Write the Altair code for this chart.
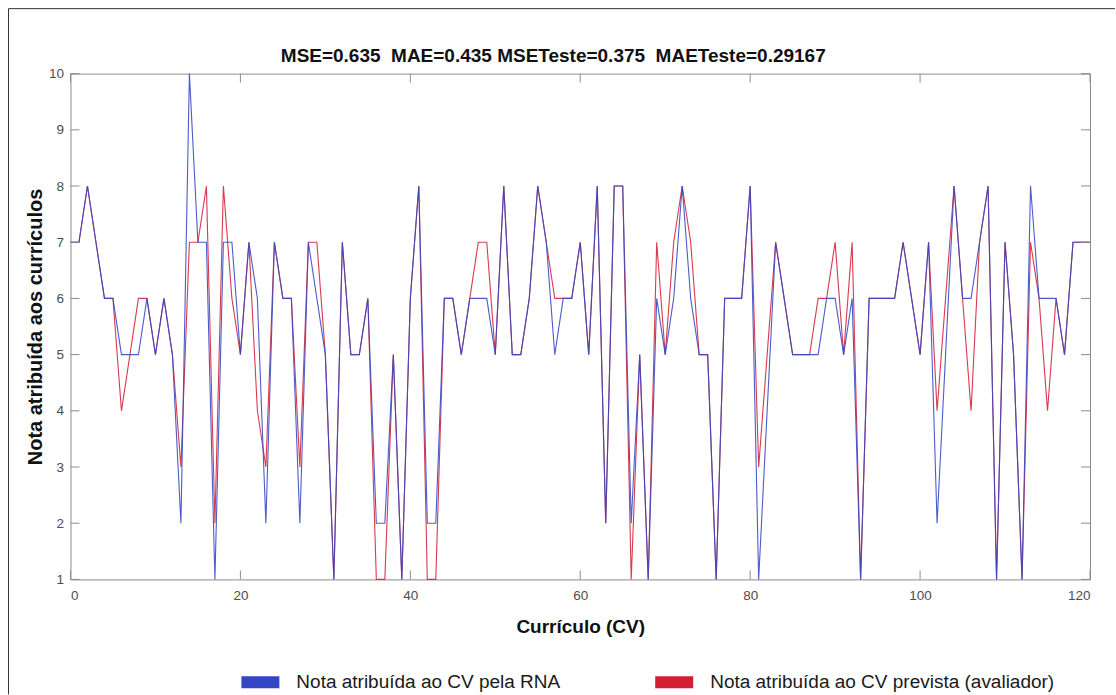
import altair as alt
import pandas as pd

# ---- data ----
cv_index = list(range(0, 121))

nota_rna = [7, 7, 8, 7, 6, 6, 5, 5, 5, 6,
            5, 6, 5, 2, 10, 7, 7, 1, 7, 7,
            5, 7, 6, 2, 7, 6, 6, 2, 7, 6,
            5, 1, 7, 5, 5, 6, 2, 2, 5, 1,
            6, 8, 2, 2, 6, 6, 5, 6, 6, 6,
            5, 8, 5, 5, 6, 8, 7, 5, 6, 6,
            7, 5, 8, 2, 8, 8, 2, 5, 1, 6,
            5, 6, 8, 6, 5, 5, 1, 6, 6, 6,
            8, 1, 4, 7, 6, 5, 5, 5, 5, 6,
            6, 5, 6, 1, 6, 6, 6, 6, 7, 6,
            5, 7, 2, 5, 8, 6, 6, 7, 8, 1,
            7, 5, 1, 8, 6, 6, 6, 5, 7, 7,
            7]

nota_avaliador = [7, 7, 8, 7, 6, 6, 4, 5, 6, 6,
                  5, 6, 5, 3, 7, 7, 8, 2, 8, 6,
                  5, 7, 4, 3, 7, 6, 6, 3, 7, 7,
                  5, 1, 7, 5, 5, 6, 1, 1, 5, 1,
                  6, 8, 1, 1, 6, 6, 5, 6, 7, 7,
                  5, 8, 5, 5, 6, 8, 7, 6, 6, 6,
                  7, 5, 8, 2, 8, 8, 1, 5, 1, 7,
                  5, 7, 8, 7, 5, 5, 1, 6, 6, 6,
                  8, 3, 5, 7, 6, 5, 5, 5, 6, 6,
                  7, 5, 7, 1, 6, 6, 6, 6, 7, 6,
                  5, 7, 4, 6, 8, 6, 4, 7, 8, 1,
                  7, 5, 1, 7, 6, 4, 6, 5, 7, 7,
                  7]

serie_rna = "Nota atribuída ao CV pela RNA"
serie_aval = "Nota atribuída ao CV prevista (avaliador)"
x_ticks = [0, 20, 40, 60, 80, 100, 120]
y_ticks = [1, 2, 3, 4, 5, 6, 7, 8, 9, 10]
NB = "\u00a0"
titulo = f"MSE=0.635 {NB}MAE=0.435 MSETeste=0.375 {NB}MAETeste=0.29167"

# ---- layout / style ----
W, H = 1020, 506
FONT = "Liberation Sans"
BLUE, RED = "#3347c4", "#d31f35"
FRAME = "#8c8c8c"
TL = 9

df_rna = pd.DataFrame({"cv": cv_index, "nota": nota_rna, "serie": serie_rna})
df_aval = pd.DataFrame({"cv": cv_index, "nota": nota_avaliador, "serie": serie_aval})

xscale = alt.Scale(domain=[0, 120], nice=False, zero=False)
yscale = alt.Scale(domain=[1, 10], nice=False, zero=False)
color = alt.Color(
    "serie:N",
    scale=alt.Scale(domain=[serie_rna, serie_aval], range=[BLUE, RED]),
    legend=alt.Legend(
        title=None, orient="none", direction="horizontal",
        legendX=165, legendY=584,
        symbolType="stroke", symbolSize=1444, symbolStrokeWidth=12,
        symbolOpacity=1,
        labelFont=FONT, labelFontSize=19, labelColor="#1a1a1a",
        labelOffset=11, columnPadding=70, padding=0,
        labelLimit=600,
    ),
)

xaxis = alt.Axis(values=x_ticks, ticks=False, domain=False, grid=False,
                 labelFont=FONT, labelFontSize=13.5, labelColor="#4d4d4d",
                 labelPadding=9, title="Currículo (CV)", titleFont=FONT,
                 titleFontSize=19, titleFontWeight="bold", titleColor="#111",
                 titlePadding=16)
yaxis = alt.Axis(values=y_ticks, ticks=False, domain=False, grid=False,
                 labelFont=FONT, labelFontSize=13.5, labelColor="#4d4d4d",
                 labelPadding=7, title="Nota atribuída aos currículos",
                 titleFont=FONT, titleFontSize=20, titleFontWeight="bold",
                 titleColor="#111", titlePadding=3)

def line_layer(df):
    return alt.Chart(df).mark_line(strokeWidth=1.1, opacity=0.88).encode(
        x=alt.X("cv:Q", scale=xscale, axis=xaxis),
        y=alt.Y("nota:Q", scale=yscale, axis=yaxis),
        color=color,
    )

red_line = line_layer(df_aval)
blue_line = line_layer(df_rna)

yt = pd.DataFrame({"v": y_ticks})
xt = pd.DataFrame({"v": x_ticks})
tick_y_left = alt.Chart(yt).mark_rule(color=FRAME, strokeWidth=1).encode(
    y=alt.Y("v:Q", scale=yscale, axis=yaxis), x=alt.value(0), x2=alt.value(TL))
tick_y_right = alt.Chart(yt).mark_rule(color=FRAME, strokeWidth=1).encode(
    y=alt.Y("v:Q", scale=yscale, axis=yaxis), x=alt.value(W - TL), x2=alt.value(W))
tick_x_bottom = alt.Chart(xt).mark_rule(color=FRAME, strokeWidth=1).encode(
    x=alt.X("v:Q", scale=xscale, axis=xaxis), y=alt.value(H - TL), y2=alt.value(H))
tick_x_top = alt.Chart(xt).mark_rule(color=FRAME, strokeWidth=1).encode(
    x=alt.X("v:Q", scale=xscale, axis=xaxis), y=alt.value(0), y2=alt.value(TL))

one = pd.DataFrame({"a": [0]})
border_left = alt.Chart(one).mark_rule(color="#333333", strokeWidth=1).encode(
    x=alt.value(-62), y=alt.value(-65), y2=alt.value(621))
border_top = alt.Chart(one).mark_rule(color="#333333", strokeWidth=1).encode(
    y=alt.value(-65), x=alt.value(-62), x2=alt.value(1045))

title_text = alt.Chart(one).mark_text(
    font=FONT, fontSize=19, fontWeight="bold", color="#111",
    align="center", baseline="alphabetic",
).encode(x=alt.value(W / 2 - 27), y=alt.value(-12), text=alt.value(titulo))

chart = alt.layer(
    red_line, blue_line,
    tick_y_left, tick_y_right, tick_x_bottom, tick_x_top,
    border_left, border_top, title_text,
).properties(
    width=W, height=H,
    padding={"left": 7.5, "top": 7.5, "right": 0, "bottom": 0},
    background="white",
).configure_view(stroke=FRAME, strokeWidth=1)

chart.save("out.html", embed_options={"renderer": "svg", "actions": False})
